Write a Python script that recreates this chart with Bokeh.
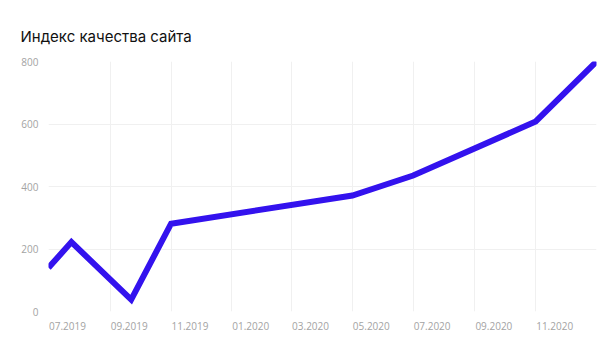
import pandas as pd
from bokeh.plotting import figure
from bokeh.models import Range1d, FixedTicker, DatetimeTickFormatter, Title
from bokeh.embed import file_html
from bokeh.resources import INLINE

# data
dates = ["2019-07-01", "2019-07-24", "2019-09-22", "2019-11-01",
         "2020-05-01", "2020-07-01", "2020-11-01", "2021-01-01"]
values = [140, 222, 38, 281, 371, 435, 608, 800]
month_starts = ["2019-07-01", "2019-09-01", "2019-11-01", "2020-01-01", "2020-03-01",
                "2020-05-01", "2020-07-01", "2020-09-01", "2020-11-01", "2021-01-01"]
y_ticks = [0, 200, 400, 600, 800]
title_text = "Индекс качества сайта"

x = pd.to_datetime(dates)
ms = lambda d: pd.Timestamp(d).value / 1e6
grid_ticks = [ms(d) for d in month_starts]
label_ticks = [ms(d) + 19 * 86400000 for d in month_starts[:-1]]

p = figure(width=616, height=360, output_backend="svg", toolbar_location=None,
           x_axis_type="datetime",
           x_range=Range1d(ms("2019-07-01"), ms("2021-01-01")),
           y_range=Range1d(0, 800),
           min_border_left=48, min_border_right=20, min_border_top=61, min_border_bottom=49)
p.outline_line_color = None
p.background_fill_color = "white"
p.border_fill_color = "white"

p.title = Title(text=title_text, text_font="Inter", text_font_size="15px",
                text_font_style="normal", text_color="#111111", offset=-28, standoff=31)

p.line(x, values, line_color="#3312EE", line_width=6, line_join="miter")

grid_color = "#f0f0f0"
p.xgrid.ticker = FixedTicker(ticks=grid_ticks)
p.xgrid.grid_line_color = grid_color
p.ygrid.grid_line_color = grid_color
p.ygrid.ticker = FixedTicker(ticks=y_ticks)

xa = p.xaxis[0]
xa.ticker = FixedTicker(ticks=label_ticks)
xa.formatter = DatetimeTickFormatter(days="%m.%Y", months="%m.%Y", years="%m.%Y",
                                     hours="%m.%Y", minutes="%m.%Y")
ya = p.yaxis[0]
ya.ticker = FixedTicker(ticks=y_ticks)
for ax in (xa, ya):
    ax.axis_line_color = None
    ax.major_tick_line_color = None
    ax.minor_tick_line_color = None
    ax.major_tick_out = 0
    ax.major_tick_in = 0
    ax.major_label_text_font = "Open Sans"
    ax.major_label_text_font_size = "10px"
    ax.major_label_text_color = "#a3a3a3"
xa.major_label_standoff = 10
ya.major_label_standoff = 10

open("out.html", "w").write(file_html(p, INLINE))
